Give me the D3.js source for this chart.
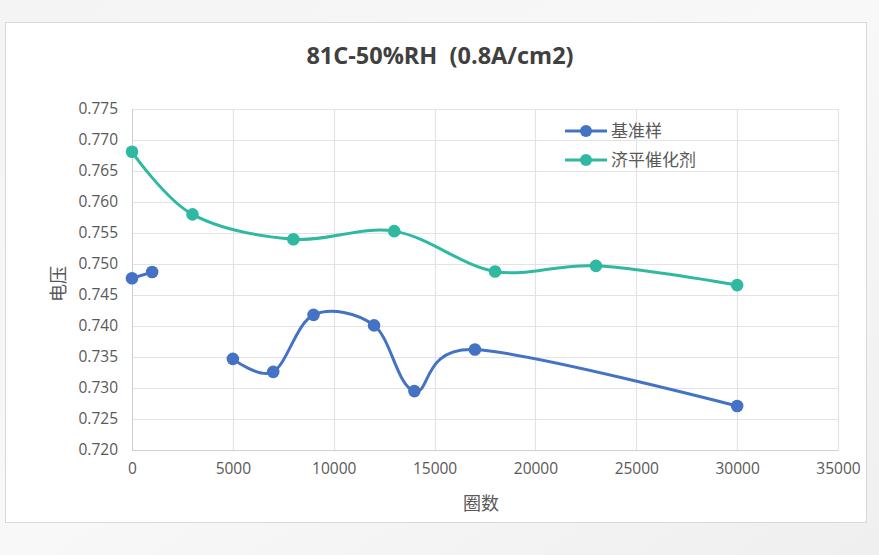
<!DOCTYPE html>
<html>
<head>
<meta charset="utf-8">
<script src="https://cdn.jsdelivr.net/npm/d3@7"></script>
<style>
  html, body { margin: 0; padding: 0; background: #f2f2f2; }
  svg { display: block; }
</style>
</head>
<body>
<svg id="chart" width="879" height="555"></svg>
<script>
// ---- data ----
const title = "81C-50%RH  (0.8A/cm2)";
const xTitle = "圈数";
const yTitle = "电压";
const seriesNames = ["基准样", "济平催化剂"];
const seriesColors = ["#4472C4", "#2FB9A0"];
// 基准样 (null marks the break in the line)
const baseX = [0, 1000, null, 5000, 7000, 9000, 12000, 14000, 17000, 30000];
const baseY = [0.7477, 0.7487, null, 0.7347, 0.7326, 0.7418, 0.7401, 0.7295, 0.7362, 0.7271];
// 济平催化剂
const catX = [0, 3000, 8000, 13000, 18000, 23000, 30000];
const catY = [0.7681, 0.7580, 0.7540, 0.7553, 0.7488, 0.7497, 0.7466];
const xTicks = [0, 5000, 10000, 15000, 20000, 25000, 30000, 35000];
const yTicks = [0.720, 0.725, 0.730, 0.735, 0.740, 0.745, 0.750, 0.755, 0.760, 0.765, 0.770, 0.775];

const svg = d3.select("#chart");
const W = 879, H = 555;

// background with soft gradient
const defs = svg.append("defs");
const bg = defs.append("linearGradient").attr("id", "bg").attr("x1", 0).attr("y1", 0).attr("x2", 1).attr("y2", 1);
bg.append("stop").attr("offset", "0%").attr("stop-color", "#f4f4f4");
bg.append("stop").attr("offset", "50%").attr("stop-color", "#f8f8f8");
bg.append("stop").attr("offset", "100%").attr("stop-color", "#efefef");
svg.append("rect").attr("width", W).attr("height", H).attr("fill", "url(#bg)");

// card
svg.append("rect").attr("x", 5.5).attr("y", 22.5).attr("width", 861).attr("height", 500)
  .attr("fill", "#ffffff").attr("stroke", "#d9d9d9").attr("stroke-width", 1);

const plot = { left: 132, right: 838, top: 109, bottom: 450 };
const x = d3.scaleLinear().domain([0, 35000]).range([plot.left, plot.right]);
const y = d3.scaleLinear().domain([0.720, 0.775]).range([plot.bottom, plot.top]);

const font = "'Open Sans', 'Noto Sans', sans-serif";
const cjk = "'Noto Sans CJK SC', sans-serif";

// gridlines
const g = svg.append("g");
g.selectAll("line.h").data(yTicks).join("line")
  .attr("x1", plot.left).attr("x2", plot.right)
  .attr("y1", d => Math.round(y(d)) + 0.5).attr("y2", d => Math.round(y(d)) + 0.5)
  .attr("stroke", "#e3e3e3").attr("stroke-width", 1.2);
g.selectAll("line.v").data(xTicks).join("line")
  .attr("y1", plot.top).attr("y2", plot.bottom)
  .attr("x1", d => Math.round(x(d)) + 0.5).attr("x2", d => Math.round(x(d)) + 0.5)
  .attr("stroke", "#e3e3e3").attr("stroke-width", 1.2);

// axes
const yAxis = d3.axisLeft(y).tickValues(yTicks).tickFormat(d3.format(".3f")).tickSize(0).tickPadding(14);
const yg = svg.append("g").attr("transform", `translate(${plot.left},0)`).call(yAxis);
yg.select(".domain").attr("stroke", "#d0d0d0");
yg.selectAll("text").attr("font-family", font).attr("font-size", 15.5).attr("fill", "#595959");

const xAxis = d3.axisBottom(x).tickValues(xTicks).tickFormat(d3.format("d")).tickSize(0).tickPadding(13);
const xg = svg.append("g").attr("transform", `translate(0,${plot.bottom})`).call(xAxis);
xg.select(".domain").attr("stroke", "#d0d0d0");
xg.selectAll("text").attr("font-family", font).attr("font-size", 15.5).attr("fill", "#595959");

// title
svg.append("text").attr("x", 440).attr("y", 64).attr("text-anchor", "middle")
  .attr("xml:space", "preserve").style("white-space", "pre")
  .attr("font-family", font).attr("font-weight", "bold")
  .attr("font-size", 23.5).attr("fill", "#404040").text(title);

// axis titles
svg.append("text").attr("x", 481).attr("y", 510).attr("text-anchor", "middle")
  .attr("font-family", cjk).attr("font-size", 18).attr("fill", "#595959").text(xTitle);
svg.append("text").attr("transform", "translate(65,284) rotate(-90)").attr("text-anchor", "middle")
  .attr("font-family", cjk).attr("font-size", 18).attr("fill", "#595959").text(yTitle);

// series
const series = [
  { name: seriesNames[0], color: seriesColors[0], pts: baseX.map((v, i) => v === null ? null : [v, baseY[i]]) },
  { name: seriesNames[1], color: seriesColors[1], pts: catX.map((v, i) => [v, catY[i]]) }
];
const line = d3.line().defined(d => d !== null).x(d => x(d[0])).y(d => y(d[1])).curve(d3.curveCardinal.tension(0));

series.forEach(s => {
  svg.append("path").attr("d", line(s.pts)).attr("fill", "none")
    .attr("stroke", s.color).attr("stroke-width", 3).attr("stroke-linejoin", "round");
  svg.selectAll(null).data(s.pts.filter(d => d !== null)).join("circle")
    .attr("cx", d => x(d[0])).attr("cy", d => y(d[1])).attr("r", 6.3).attr("fill", s.color);
});

// legend
const leg = svg.append("g");
series.forEach((s, i) => {
  const ly = 131 + i * 29;
  leg.append("line").attr("x1", 565).attr("x2", 607).attr("y1", ly).attr("y2", ly)
    .attr("stroke", s.color).attr("stroke-width", 3);
  leg.append("circle").attr("cx", 586).attr("cy", ly).attr("r", 6).attr("fill", s.color);
  leg.append("text").attr("x", 611).attr("y", ly + 6).attr("font-family", cjk).attr("font-size", 17)
    .attr("fill", "#595959").text(s.name);
});
</script>
</body>
</html>
